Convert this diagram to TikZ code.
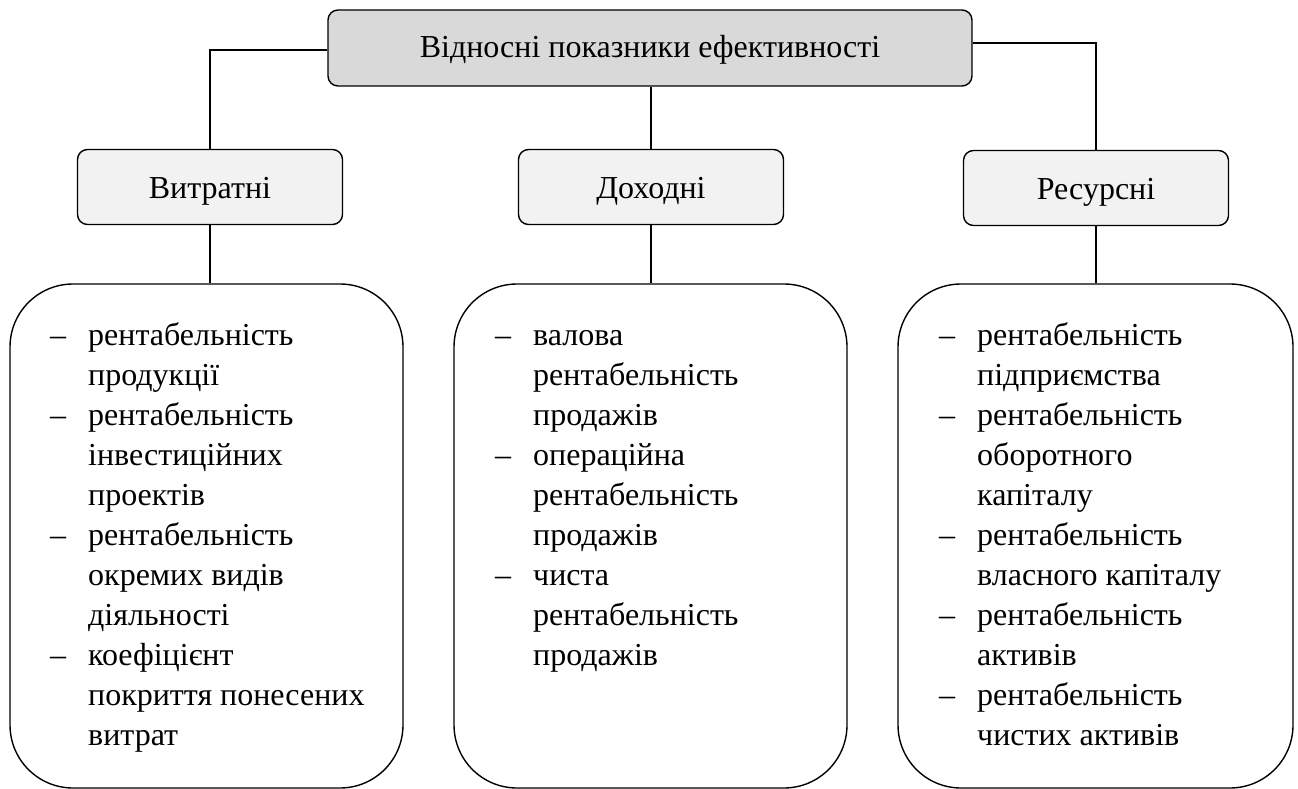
\documentclass[tikz,border=0pt]{standalone}
\usepackage{fontspec}
\setmainfont{Liberation Serif}
\usetikzlibrary{positioning}
\definecolor{topfill}{HTML}{D9D9D9}
\definecolor{midfill}{HTML}{F2F2F2}
\newcommand{\listfont}{\fontsize{32}{40}\selectfont}
\tikzset{
  x=1pt, y=-1pt,
  topbox/.style={draw, line width=1.4pt, rounded corners=10pt, fill=topfill, minimum width=644pt, minimum height=76pt, inner sep=0pt, text height=23pt, text depth=3pt, font=\listfont},
  midbox/.style={draw, line width=1.4pt, rounded corners=10pt, fill=midfill, minimum width=265pt, minimum height=75pt, inner sep=0pt, text height=24pt, text depth=2pt, font=\listfont},
  bigbox/.style={draw, line width=1.4pt, rounded corners=63pt, minimum height=504pt, inner sep=0pt},
  listtext/.style={anchor=base west, inner sep=0pt, font=\listfont},
  conn/.style={line width=1.1pt}
}
\begin{document}
\begin{tikzpicture}
\useasboundingbox (0,0) rectangle (1298,789);
\node[topbox] (top) at (650,48) {Відносні показники ефективності};
\node[midbox] (v) at (210,187) {Витратні};
\node[midbox] (d) at (651,187) {Доходні};
\node[midbox] (r) at (1096,188) {Ресурсні};
\node[bigbox, minimum width=393pt] (bl) at (206.5,536) {};
\node[bigbox, minimum width=393pt] (bm) at (650.5,536) {};
\node[bigbox, minimum width=395pt] (br) at (1095.5,536) {};
\draw[conn] ([yshift=-2pt]top.west) -| (v.north);
\draw[conn] ([yshift=5pt]top.east) -| (r.north);
\draw[conn] (top.south -| d.north) -- (d.north);
\draw[conn] (v.south) -- (v.south |- bl.north);
\draw[conn] (d.south) -- (d.south |- bm.north);
\draw[conn] (r.south) -- (r.south |- br.north);
\node[listtext] (tl) at (50,345) {\begin{tabular}[t]{@{}p{38pt}@{}l@{}}
–& рентабельність\\
 & продукції\\
–& рентабельність\\
 & інвестиційних\\
 & проектів\\
–& рентабельність\\
 & окремих видів\\
 & діяльності\\
–& коефіцієнт\\
 & покриття понесених\\
 & витрат
\end{tabular}};
\node[listtext] (tm) at (495,345) {\begin{tabular}[t]{@{}p{38pt}@{}l@{}}
–& валова\\
 & рентабельність\\
 & продажів\\
–& операційна\\
 & рентабельність\\
 & продажів\\
–& чиста\\
 & рентабельність\\
 & продажів
\end{tabular}};
\node[listtext] (tr) at (939,345) {\begin{tabular}[t]{@{}p{38pt}@{}l@{}}
–& рентабельність\\
 & підприємства\\
–& рентабельність\\
 & оборотного\\
 & капіталу\\
–& рентабельність\\
 & власного капіталу\\
–& рентабельність\\
 & активів\\
–& рентабельність\\
 & чистих активів
\end{tabular}};
\end{tikzpicture}
\end{document}
